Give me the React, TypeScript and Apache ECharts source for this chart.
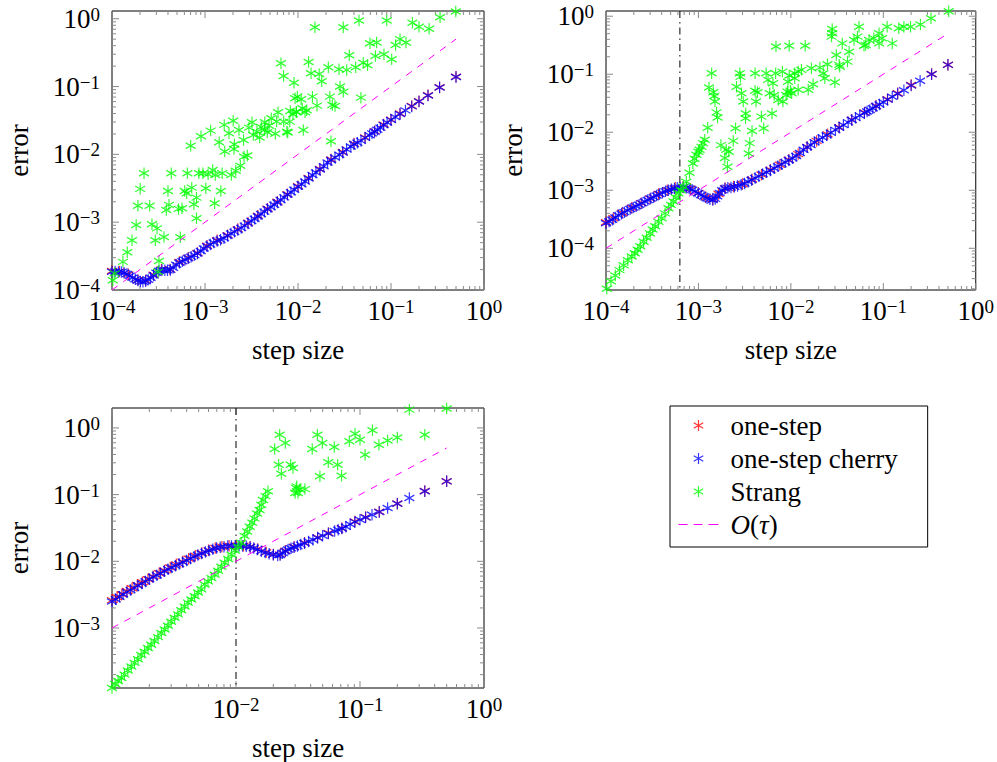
import React, { useEffect, useRef } from 'react';
import * as echarts from 'echarts';

const FONT = "'Liberation Serif', 'DejaVu Serif', serif";
const ASTERISK = 'path://M0,-10L0,10M-8.66,-5L8.66,5M-8.66,5L8.66,-5';
const DASH_ICON = 'path://M0,-5M0,0L9,0M15,0L24,0M30,0L40,0M0,5';

const NAMES = ['one-step', 'one-step cherry', 'Strang', 'O(τ)'];
const COLORS = ['#ff0000', '#0000ff', '#00ff00', '#ff00ff'];

// ---------- panel 1 ----------
const P1_ONESTEP = [[1.0e-4,1.9e-4],[1.2e-4,1.88e-4],[1.5e-4,1.7e-4],[1.9e-4,1.4e-4],[2.3e-4,1.38e-4],[2.8e-4,1.68e-4],[3.4e-4,2.0e-4],[4.2e-4,2.0e-4],[5.3e-4,2.58e-4],[6.6e-4,3.0e-4],[8.3e-4,3.52e-4],[1.05e-3,4.5e-4],[1.35e-3,5.4e-4],[1.75e-3,6.4e-4],[2.25e-3,7.9e-4],[2.9e-3,9.8e-4],[3.7e-3,1.24e-3],[4.7e-3,1.58e-3],[6.0e-3,2.0e-3],[7.7e-3,2.58e-3],[1.0e-2,3.4e-3],[1.3e-2,4.5e-3],[1.72e-2,6.1e-3],[2.27e-2,8.4e-3],[3.03e-2,1.08e-2],[4.0e-2,1.44e-2],[5.26e-2,1.78e-2],[6.67e-2,2.2e-2],[8.33e-2,2.75e-2],[0.1,3.25e-2],[0.125,4.0e-2],[0.167,5.15e-2],[0.2,6.05e-2],[0.25,7.45e-2],[0.333,9.75e-2],[0.5,0.139]];
const P1_CHERRY = [[1.0e-4,1.86e-4],[1.08e-4,1.88e-4],[1.17e-4,1.85e-4],[1.26e-4,1.84e-4],[1.35e-4,1.8e-4],[1.45e-4,1.72e-4],[1.55e-4,1.62e-4],[1.66e-4,1.52e-4],[1.78e-4,1.44e-4],[1.9e-4,1.38e-4],[2.02e-4,1.34e-4],[2.15e-4,1.32e-4],[2.3e-4,1.35e-4],[2.45e-4,1.42e-4],[2.6e-4,1.52e-4],[2.8e-4,1.64e-4],[3.0e-4,1.8e-4],[3.2e-4,1.92e-4],[3.45e-4,1.97e-4],[3.7e-4,1.96e-4],[3.95e-4,1.95e-4],[4.25e-4,1.98e-4],[4.55e-4,2.12e-4],[4.9e-4,2.35e-4],[5.3e-4,2.52e-4],[5.7e-4,2.65e-4],[6.1e-4,2.8e-4],[6.6e-4,2.93e-4],[7.1e-4,3.1e-4],[7.7e-4,3.27e-4],[8.3e-4,3.45e-4],[9.0e-4,3.75e-4],[9.7e-4,4.1e-4],[1.05e-3,4.4e-4],[1.14e-3,4.7e-4],[1.24e-3,5.0e-4],[1.35e-3,5.3e-4],[1.47e-3,5.5e-4],[1.6e-3,5.8e-4],[1.75e-3,6.3e-4],[1.9e-3,6.8e-4],[2.07e-3,7.2e-4],[2.25e-3,7.7e-4],[2.45e-3,8.2e-4],[2.67e-3,8.9e-4],[2.9e-3,9.6e-4],[3.15e-3,1.04e-3],[3.42e-3,1.12e-3],[3.7e-3,1.21e-3],[4.0e-3,1.32e-3],[4.35e-3,1.43e-3],[4.7e-3,1.55e-3],[5.1e-3,1.67e-3],[5.55e-3,1.81e-3],[6.0e-3,1.95e-3],[6.5e-3,2.13e-3],[7.1e-3,2.32e-3],[7.7e-3,2.53e-3],[8.4e-3,2.76e-3],[9.1e-3,3.0e-3],[1.0e-2,3.32e-3],[1.09e-2,3.62e-3],[1.19e-2,3.98e-3],[1.3e-2,4.4e-3],[1.43e-2,4.95e-3],[1.56e-2,5.4e-3],[1.72e-2,6.0e-3],[1.89e-2,6.7e-3],[2.08e-2,7.6e-3],[2.27e-2,8.2e-3],[2.5e-2,9.0e-3],[2.78e-2,9.9e-3],[3.03e-2,1.06e-2],[3.33e-2,1.18e-2],[3.7e-2,1.31e-2],[4.0e-2,1.41e-2],[4.35e-2,1.48e-2],[4.76e-2,1.58e-2],[5.26e-2,1.75e-2],[5.88e-2,1.92e-2],[6.25e-2,2.04e-2],[6.67e-2,2.16e-2],[7.14e-2,2.3e-2],[7.69e-2,2.47e-2],[8.33e-2,2.7e-2],[9.09e-2,2.95e-2],[0.1,3.2e-2],[0.111,3.55e-2],[0.125,3.95e-2],[0.143,4.45e-2],[0.167,5.1e-2],[0.2,6.0e-2],[0.25,7.4e-2],[0.333,9.7e-2],[0.5,0.138]];
const P1_STRANG = [[0.497,1.28],[0.0152,0.75],[0.0307,0.75],[0.0453,0.94],[0.09,0.94],[0.17,0.875],[0.2,0.76],[0.257,0.71],[0.337,1.05],
[0.00656,0.22],[0.007,0.143],[0.00906,0.114],[0.013,0.23],[0.0138,0.157],[0.0169,0.153],[0.018,0.12],[0.0212,0.193],[0.0276,0.18],[0.0334,0.176],[0.0356,0.29],[0.0417,0.193],[0.0503,0.225],[0.056,0.206],[0.0594,0.435],[0.07,0.445],[0.068,0.283],[0.084,0.3],[0.1017,0.252],[0.112,0.41],[0.125,0.5],[0.145,0.445],
[0.0093,0.067],[0.0108,0.065],[0.0143,0.071],[0.022,0.071],[0.0234,0.0536],[0.025,0.0518],[0.0307,0.084],[0.0283,0.1],[0.0475,0.0686],[0.0114,0.0229],[0.0226,0.0156],[0.00776,0.021],[0.016,0.0523],[0.0111,0.0479],[0.0119,0.0418],[0.0096,0.0418],[0.0124,0.0447],
[0.000702,0.0134],[0.000906,0.0185],[0.00115,0.0224],[0.00142,0.0151],[0.00161,0.0272],[0.00163,0.011],[0.00181,0.0205],[0.00201,0.0314],[0.00205,0.012],[0.00207,0.0141],[0.00232,0.0229],[0.0026,0.0163],[0.00285,0.0096],[0.00297,0.0248],[0.0032,0.0297],[0.00331,0.0193],[0.00362,0.0216],[0.00387,0.0177],[0.00403,0.0253],[0.00438,0.0229],[0.0044,0.0297],[0.00468,0.0212],[0.00488,0.0265],[0.00516,0.034],[0.0057,0.0202],[0.0059,0.0304],[0.0061,0.0417],[0.00702,0.0304],[0.0076,0.0216],[0.00815,0.0304],[0.00826,0.0436],[0.00883,0.039],[0.0096,0.0426],[0.00984,0.071],
[0.000221,0.00526],[0.000201,0.0031],[0.00019,0.00175],[0.000254,0.00175],[0.000182,0.00091],[0.000269,0.00093],[0.000305,0.00081],[0.000164,0.00054],[0.000292,0.00054],[0.000362,0.000605],[0.000146,0.00036],[0.000131,0.00026],[0.00032,0.000268],[0.000313,0.000186],[0.000102,0.000139],[0.000107,0.000176],[0.000434,0.00526],[0.0004,0.00288],[0.00041,0.0018],[0.000384,0.00151],[0.00052,0.00157],[0.000566,0.0016],[0.000605,0.00288],[0.000646,0.00526],[0.000636,0.00267],[0.00072,0.00323],[0.00076,0.00184],[0.00081,0.0023],[0.00081,0.00114],[0.000543,0.000598],[0.00086,0.00526],[0.00095,0.00526],[0.00102,0.00316],[0.00108,0.0051],[0.00121,0.0059],[0.00129,0.00497],[0.00127,0.0019],[0.00148,0.00288],[0.00153,0.00526],[0.00192,0.00497],[0.00214,0.00575],[0.0024,0.0068],[0.00263,0.0092]];
const P1_ORDER = [[1e-4, 1e-4], [0.5, 0.5]];

// ---------- panel 2 ----------
const P2_ONESTEP = [[1.0e-4,2.8e-4],[1.2e-4,3.3e-4],[1.5e-4,4.1e-4],[1.9e-4,5.0e-4],[2.4e-4,6.0e-4],[3.0e-4,7.2e-4],[3.7e-4,8.6e-4],[4.6e-4,1.0e-3],[5.6e-4,1.1e-3],[6.8e-4,1.13e-3],[8.2e-4,1.06e-3],[1.0e-3,9.0e-4],[1.2e-3,7.6e-4],[1.43e-3,7.0e-4],[1.65e-3,8.6e-4],[1.95e-3,1.08e-3],[2.4e-3,1.16e-3],[3.0e-3,1.28e-3],[3.8e-3,1.53e-3],[4.8e-3,1.86e-3],[6.0e-3,2.25e-3],[7.6e-3,2.75e-3],[9.5e-3,3.35e-3],[1.2e-2,4.2e-3],[1.5e-2,5.6e-3],[1.9e-2,7.1e-3],[2.5e-2,9.2e-3],[3.33e-2,1.22e-2],[4.55e-2,1.65e-2],[6.25e-2,2.2e-2],[8.33e-2,2.85e-2],[0.111,3.7e-2],[0.143,4.7e-2],[0.2,6.5e-2],[0.333,0.101],[0.5,0.146]];
const P2_CHERRY = [[1.0e-4,2.7e-4],[1.08e-4,2.9e-4],[1.17e-4,3.1e-4],[1.26e-4,3.4e-4],[1.36e-4,3.7e-4],[1.47e-4,3.95e-4],[1.58e-4,4.2e-4],[1.7e-4,4.5e-4],[1.83e-4,4.75e-4],[1.97e-4,5.05e-4],[2.12e-4,5.3e-4],[2.28e-4,5.65e-4],[2.45e-4,6.0e-4],[2.63e-4,6.4e-4],[2.83e-4,6.8e-4],[3.05e-4,7.2e-4],[3.28e-4,7.6e-4],[3.53e-4,8.1e-4],[3.8e-4,8.6e-4],[4.08e-4,9.1e-4],[4.4e-4,9.6e-4],[4.73e-4,1.0e-3],[5.1e-4,1.04e-3],[5.5e-4,1.07e-3],[5.9e-4,1.1e-3],[6.35e-4,1.11e-3],[6.85e-4,1.12e-3],[7.4e-4,1.1e-3],[7.95e-4,1.07e-3],[8.55e-4,1.02e-3],[9.2e-4,9.5e-4],[9.9e-4,8.9e-4],[1.07e-3,8.3e-4],[1.15e-3,7.8e-4],[1.24e-3,7.3e-4],[1.33e-3,7.0e-4],[1.43e-3,6.8e-4],[1.52e-3,7.1e-4],[1.6e-3,7.9e-4],[1.7e-3,9.0e-4],[1.8e-3,1.0e-3],[1.93e-3,1.07e-3],[2.08e-3,1.1e-3],[2.25e-3,1.12e-3],[2.45e-3,1.15e-3],[2.65e-3,1.18e-3],[2.9e-3,1.24e-3],[3.15e-3,1.31e-3],[3.45e-3,1.4e-3],[3.75e-3,1.5e-3],[4.1e-3,1.62e-3],[4.5e-3,1.75e-3],[4.95e-3,1.9e-3],[5.45e-3,2.04e-3],[6.0e-3,2.2e-3],[6.6e-3,2.4e-3],[7.25e-3,2.6e-3],[7.95e-3,2.82e-3],[8.7e-3,3.05e-3],[9.5e-3,3.3e-3],[1.04e-2,3.55e-3],[1.14e-2,3.9e-3],[1.25e-2,4.4e-3],[1.37e-2,5.0e-3],[1.5e-2,5.5e-3],[1.64e-2,6.0e-3],[1.8e-2,6.7e-3],[2.0e-2,7.4e-3],[2.2e-2,8.1e-3],[2.44e-2,8.9e-3],[2.7e-2,9.8e-3],[3.03e-2,1.1e-2],[3.33e-2,1.2e-2],[3.7e-2,1.33e-2],[4.17e-2,1.48e-2],[4.55e-2,1.62e-2],[5.0e-2,1.77e-2],[5.56e-2,1.95e-2],[6.25e-2,2.15e-2],[6.67e-2,2.28e-2],[7.14e-2,2.42e-2],[7.69e-2,2.6e-2],[8.33e-2,2.8e-2],[9.09e-2,3.02e-2],[0.1,3.3e-2],[0.111,3.65e-2],[0.125,4.1e-2],[0.143,4.6e-2],[0.167,5.3e-2],[0.2,6.4e-2],[0.25,7.7e-2],[0.333,0.1],[0.5,0.145]];
const P2_STRANG = [[1.02e-4,2.0e-5],[1.13e-4,2.7e-5],[1.26e-4,3.4e-5],[1.4e-4,4.2e-5],[1.55e-4,5.1e-5],[1.72e-4,6.2e-5],[1.9e-4,7.2e-5],[2.05e-4,8.2e-5],[2.2e-4,9.4e-5],[2.35e-4,1.08e-4],[2.55e-4,1.3e-4],[2.75e-4,1.52e-4],[3.0e-4,1.8e-4],[3.2e-4,2.1e-4],[3.4e-4,2.4e-4],[3.7e-4,2.85e-4],[4.0e-4,3.3e-4],[4.35e-4,4.0e-4],[4.74e-4,4.9e-4],[5.05e-4,5.6e-4],[5.37e-4,6.4e-4],[5.7e-4,7.5e-4],[6.07e-4,8.9e-4],[6.45e-4,1.0e-3],[6.87e-4,1.15e-3],[7.4e-4,1.4e-3],[8.0e-4,2.0e-3],[8.7e-4,2.9e-3],[9.1e-4,3.5e-3],[9.5e-4,4.1e-3],[1.0e-3,4.6e-3],[1.03e-3,5.0e-3],[1.08e-3,5.6e-3],[1.12e-3,6.5e-3],[1.17e-3,7.4e-3],[1.26e-3,1.2e-2],
[1.3e-3,5.9e-2],[1.39e-3,0.104],[1.45e-3,4.9e-2],[1.48e-3,4.2e-2],[1.51e-3,3.4e-2],[1.57e-3,2.2e-2],[1.61e-3,1.8e-2],
[1.75e-3,6.0e-3],[1.93e-3,3.6e-3],[2.0e-3,5.0e-3],[2.06e-3,2.55e-3],[2.13e-3,4.6e-3],[2.38e-3,7.1e-3],[2.52e-3,1.17e-2],[2.58e-3,6.1e-2],[2.8e-3,0.104],[2.85e-3,9.0e-2],[2.92e-3,4.7e-2],[3.05e-3,3.4e-2],[3.25e-3,2.1e-2],[3.23e-3,1.75e-2],[3.5e-3,4.3e-3],[3.59e-3,6.5e-3],[3.8e-3,1.05e-2],[4.1e-3,0.104],[4.1e-3,5.2e-2],[4.2e-3,3.4e-2],[4.35e-3,4.9e-2],[4.8e-3,1.86e-2],[5.08e-3,1.17e-2],[5.4e-3,0.104],[5.66e-3,8.0e-2],[5.9e-3,4.7e-2],[6.25e-3,2.1e-2],[6.4e-3,7.0e-2],[6.6e-3,4.4e-2],[6.84e-3,0.104],[6.9e-3,0.3],[7.3e-3,3.6e-2],[8.1e-3,0.111],[8.2e-3,3.4e-2],[8.9e-3,4.4e-2],[9.2e-3,5.0e-2],[9.3e-3,7.45e-2],[9.6e-3,0.31],[9.6e-3,9.5e-2],[9.9e-3,5.2e-2],
[1.02e-2,4.7e-2],[1.1e-2,0.104],[1.1e-2,8.5e-2],[1.2e-2,0.111],[1.2e-2,5.4e-2],[1.3e-2,0.119],[1.43e-2,0.31],[1.54e-2,5.4e-2],[1.67e-2,0.127],[1.74e-2,6.7e-2],[2.06e-2,0.13],[2.24e-2,0.104],[2.33e-2,8.5e-2],[2.49e-2,0.149],[2.75e-2,0.445],[2.8e-2,0.51],[2.8e-2,0.6],[2.99e-2,7.3e-2],[3.1e-2,0.215],[3.33e-2,0.145],[3.38e-2,0.135],[3.6e-2,0.34],[4.1e-2,0.165],[4.27e-2,0.245],[4.82e-2,0.39],[5.25e-2,0.445],[5.46e-2,0.66],[6.18e-2,0.31],[6.45e-2,0.32],[7.0e-2,0.39],[7.9e-2,0.416],[9.0e-2,0.51],[9.0e-2,0.342],[9.7e-2,0.416],[0.11,0.66],[0.125,0.34],[0.147,0.62],[0.167,0.66],[0.197,0.66],[0.252,0.72],[0.328,0.92],[0.51,1.22]];
const P2_ORDER = [[1e-4, 1e-4], [0.5, 0.5]];
const P2_VLINE = 6.3e-4;

// ---------- panel 3 ----------
const P3_ONESTEP = [[1.0e-3,2.62e-3],[1.1e-3,2.9e-3],[1.2e-3,3.2e-3],[1.32e-3,3.6e-3],[1.45e-3,3.95e-3],[1.6e-3,4.4e-3],[1.76e-3,4.85e-3],[1.95e-3,5.4e-3],[2.15e-3,5.95e-3],[2.4e-3,6.6e-3],[2.65e-3,7.3e-3],[2.95e-3,8.1e-3],[3.3e-3,9.0e-3],[3.7e-3,9.9e-3],[4.15e-3,1.09e-2],[4.7e-3,1.21e-2],[5.3e-3,1.33e-2],[6.0e-3,1.46e-2],[6.8e-3,1.58e-2],[7.7e-3,1.66e-2],[8.8e-3,1.71e-2],[1.0e-2,1.73e-2],[1.15e-2,1.71e-2],[1.3e-2,1.66e-2],[1.5e-2,1.53e-2],[1.75e-2,1.37e-2],[2.0e-2,1.27e-2],[2.27e-2,1.26e-2],[2.5e-2,1.44e-2],[2.94e-2,1.65e-2],[3.57e-2,1.9e-2],[4.55e-2,2.28e-2],[5.56e-2,2.65e-2],[7.14e-2,3.13e-2],[9.09e-2,3.95e-2],[0.111,4.6e-2],[0.143,5.55e-2],[0.2,7.35e-2],[0.333,0.113],[0.5,0.159]];
const P3_CHERRY = [[1.0e-3,2.5e-3],[1.07e-3,2.7e-3],[1.15e-3,2.95e-3],[1.23e-3,3.2e-3],[1.32e-3,3.45e-3],[1.41e-3,3.7e-3],[1.51e-3,4.0e-3],[1.62e-3,4.3e-3],[1.74e-3,4.65e-3],[1.86e-3,5.0e-3],[2.0e-3,5.4e-3],[2.14e-3,5.8e-3],[2.3e-3,6.2e-3],[2.46e-3,6.6e-3],[2.64e-3,7.1e-3],[2.83e-3,7.6e-3],[3.03e-3,8.1e-3],[3.25e-3,8.6e-3],[3.48e-3,9.1e-3],[3.73e-3,9.7e-3],[4.0e-3,1.03e-2],[4.29e-3,1.1e-2],[4.6e-3,1.17e-2],[4.93e-3,1.24e-2],[5.28e-3,1.31e-2],[5.66e-3,1.38e-2],[6.07e-3,1.45e-2],[6.5e-3,1.52e-2],[6.97e-3,1.58e-2],[7.47e-3,1.63e-2],[8.0e-3,1.66e-2],[8.58e-3,1.69e-2],[9.2e-3,1.7e-2],[9.86e-3,1.71e-2],[1.06e-2,1.71e-2],[1.13e-2,1.7e-2],[1.21e-2,1.68e-2],[1.3e-2,1.64e-2],[1.39e-2,1.58e-2],[1.49e-2,1.5e-2],[1.6e-2,1.42e-2],[1.72e-2,1.35e-2],[1.85e-2,1.3e-2],[2.0e-2,1.25e-2],[2.17e-2,1.22e-2],[2.27e-2,1.24e-2],[2.38e-2,1.33e-2],[2.5e-2,1.42e-2],[2.63e-2,1.5e-2],[2.78e-2,1.57e-2],[2.94e-2,1.63e-2],[3.13e-2,1.7e-2],[3.33e-2,1.78e-2],[3.57e-2,1.87e-2],[3.85e-2,1.98e-2],[4.17e-2,2.1e-2],[4.55e-2,2.25e-2],[5.0e-2,2.42e-2],[5.56e-2,2.62e-2],[6.25e-2,2.85e-2],[6.67e-2,2.98e-2],[7.14e-2,3.1e-2],[7.69e-2,3.3e-2],[8.33e-2,3.6e-2],[9.09e-2,3.9e-2],[0.1,4.2e-2],[0.111,4.55e-2],[0.125,5.0e-2],[0.143,5.5e-2],[0.167,6.3e-2],[0.2,7.3e-2],[0.25,8.9e-2],[0.333,0.112],[0.5,0.158]];
const P3_STRANG = [[1.0e-3,1.26e-4],[1.06e-3,1.45e-4],[1.12e-3,1.6e-4],[1.19e-3,1.78e-4],[1.26e-3,2.0e-4],[1.34e-3,2.3e-4],[1.43e-3,2.65e-4],[1.52e-3,3.0e-4],[1.62e-3,3.4e-4],[1.72e-3,3.95e-4],[1.83e-3,4.4e-4],[1.95e-3,5.0e-4],[2.07e-3,5.6e-4],[2.2e-3,6.4e-4],[2.35e-3,7.3e-4],[2.5e-3,8.4e-4],[2.66e-3,9.5e-4],[2.83e-3,1.08e-3],[3.0e-3,1.24e-3],[3.2e-3,1.42e-3],[3.4e-3,1.6e-3],[3.62e-3,1.85e-3],[3.85e-3,2.1e-3],[4.1e-3,2.4e-3],[4.36e-3,2.68e-3],[4.64e-3,3.0e-3],[4.94e-3,3.4e-3],[5.25e-3,3.8e-3],[5.6e-3,4.5e-3],[5.95e-3,5.0e-3],[6.33e-3,5.6e-3],[6.74e-3,6.3e-3],[7.17e-3,7.2e-3],[7.62e-3,8.3e-3],[8.1e-3,9.5e-3],[8.65e-3,1.08e-2],[9.2e-3,1.25e-2],[9.8e-3,1.45e-2],[1.04e-2,1.65e-2],[1.1e-2,1.9e-2],[1.17e-2,2.4e-2],[1.23e-2,2.8e-2],[1.29e-2,3.3e-2],[1.35e-2,3.8e-2],[1.41e-2,4.4e-2],[1.48e-2,5.2e-2],[1.55e-2,5.9e-2],[1.6e-2,7.0e-2],[1.65e-2,8.3e-2],[1.73e-2,9.5e-2],[1.81e-2,0.112],
[0.0225,0.79],[0.025,0.594],[0.0205,0.483],[0.0221,0.281],[0.0276,0.28],[0.0232,0.206],[0.0288,0.25],[0.0306,0.126],[0.03,0.106],[0.0309,0.133],[0.0328,0.119],[0.036,0.121],[0.0316,0.106],[0.0453,0.79],[0.0412,0.483],[0.0497,0.594],[0.062,0.518],[0.0555,0.305],[0.066,0.281],[0.0475,0.188],[0.071,0.192],[0.082,0.63],[0.0912,0.82],[0.1,0.665],[0.11,0.396],[0.126,0.92],[0.142,0.56],[0.167,0.65],[0.2,0.72],[0.25,1.88],[0.333,0.79],[0.5,1.95]];
const P3_ORDER = [[1e-3, 1e-3], [0.5, 0.5]];
const P3_VLINE = 1e-2;

// tick label exponents shown
const P1_X_EXP = [-4, -3, -2, -1, 0];
const P1_Y_EXP = [-4, -3, -2, -1, 0];
const P2_X_EXP = [-4, -3, -2, -1, 0];
const P2_Y_EXP = [-4, -3, -2, -1, 0];
const P3_X_EXP = [-2, -1, 0];
const P3_Y_EXP = [-3, -2, -1, 0];

const PANELS = [
  { grid: { left: 112, top: 11, width: 372, height: 279 }, x: [1e-4, 1], y: [1e-4, 1.3], xExp: P1_X_EXP, yExp: P1_Y_EXP,
    data: [P1_ONESTEP, P1_CHERRY, P1_STRANG], order: P1_ORDER, vline: null as number | null },
  { grid: { left: 606, top: 11, width: 371, height: 279 }, x: [1e-4, 1], y: [1.91e-5, 1.23], xExp: P2_X_EXP, yExp: P2_Y_EXP,
    data: [P2_ONESTEP, P2_CHERRY, P2_STRANG], order: P2_ORDER, vline: P2_VLINE },
  { grid: { left: 112, top: 408, width: 372, height: 280 }, x: [1e-3, 1], y: [1.26e-4, 1.99], xExp: P3_X_EXP, yExp: P3_Y_EXP,
    data: [P3_ONESTEP, P3_CHERRY, P3_STRANG], order: P3_ORDER, vline: P3_VLINE },
];

const RICH = {
  b: { fontFamily: FONT, fontSize: 27, lineHeight: 28, color: '#000' },
  s: { fontFamily: FONT, fontSize: 19, lineHeight: 19, verticalAlign: 'top', color: '#000' },
};

function expFormatter(show: number[]) {
  return (v: number) => {
    const l = Math.log10(v);
    const e = Math.round(l);
    if (Math.abs(l - e) > 1e-6 || show.indexOf(e) < 0) return '';
    return `{b|10}{s|${e < 0 ? '\u2212' + -e : String(e)}}`;
  };
}

// kinds: 0 x-major, 1 x-minor, 2 y-major, 3 y-minor, 4 vertical reference line
function tickData(xr: number[], yr: number[], vline: number | null) {
  const out: number[][] = [];
  const add = (r: number[], isX: boolean) => {
    const d0 = Math.floor(Math.log10(r[0]) - 1e-9);
    const d1 = Math.ceil(Math.log10(r[1]) + 1e-9);
    for (let d = d0; d <= d1; d++) {
      for (let k = 1; k <= 9; k++) {
        const v = k * Math.pow(10, d);
        if (v < r[0] * 0.999 || v > r[1] * 1.001) continue;
        const kind = (isX ? 0 : 2) + (k === 1 ? 0 : 1);
        out.push(isX ? [v, yr[0], kind] : [xr[0], v, kind]);
      }
    }
  };
  add(xr, true);
  add(yr, false);
  if (vline != null) out.push([vline, yr[0], 4]);
  return out;
}

function buildOption() {
  const grid: any[] = [];
  const xAxis: any[] = [];
  const yAxis: any[] = [];
  const series: any[] = [];
  PANELS.forEach((p, i) => {
    grid.push({ ...p.grid, show: true, borderColor: '#000', borderWidth: 1, backgroundColor: 'transparent' });
    xAxis.push({
      type: 'log', logBase: 10, gridIndex: i, min: p.x[0], max: p.x[1], splitNumber: 4,
      axisLine: { show: false }, axisTick: { show: false }, splitLine: { show: false }, minorTick: { show: false },
      axisLabel: { margin: 7, formatter: expFormatter(p.xExp), rich: RICH, showMinLabel: true, showMaxLabel: true },
      name: 'step size', nameLocation: 'middle', nameGap: 46,
      nameTextStyle: { fontFamily: FONT, fontSize: 27, color: '#000' },
    });
    yAxis.push({
      type: 'log', logBase: 10, gridIndex: i, min: p.y[0], max: p.y[1], splitNumber: 4,
      axisLine: { show: false }, axisTick: { show: false }, splitLine: { show: false }, minorTick: { show: false },
      axisLabel: { margin: 12, formatter: expFormatter(p.yExp), rich: RICH, showMinLabel: true, showMaxLabel: true },
      name: 'error', nameLocation: 'middle', nameGap: 80,
      nameTextStyle: { fontFamily: FONT, fontSize: 27, color: '#000' },
    });
    series.push({
      type: 'custom', xAxisIndex: i, yAxisIndex: i, silent: true, z: 1, clip: false,
      data: tickData(p.x, p.y, p.vline),
      renderItem: (params: any, api: any) => {
        const cs = params.coordSys;
        const kind = api.value(2);
        const pt = api.coord([api.value(0), api.value(1)]);
        if (kind === 4) {
          return { type: 'line', shape: { x1: pt[0], y1: cs.y, x2: pt[0], y2: cs.y + cs.height },
            style: { stroke: '#000', lineWidth: 1, lineDash: [7, 4, 1.5, 4] } };
        }
        const len = kind % 2 === 0 ? 7 : 4;
        const st = { stroke: '#8a8a8a', lineWidth: 1 };
        if (kind < 2) {
          const x = pt[0];
          return { type: 'group', children: [
            { type: 'line', shape: { x1: x, y1: cs.y + cs.height, x2: x, y2: cs.y + cs.height - len }, style: st },
            { type: 'line', shape: { x1: x, y1: cs.y, x2: x, y2: cs.y + len }, style: st },
          ] };
        }
        const y = pt[1];
        return { type: 'group', children: [
          { type: 'line', shape: { x1: cs.x, y1: y, x2: cs.x + len, y2: y }, style: st },
          { type: 'line', shape: { x1: cs.x + cs.width, y1: y, x2: cs.x + cs.width - len, y2: y }, style: st },
        ] };
      },
    });
    p.data.forEach((d, k) => {
      series.push({
        type: 'scatter', name: NAMES[k], xAxisIndex: i, yAxisIndex: i, data: d, clip: false,
        symbol: ASTERISK, symbolSize: [10, 11.5], z: 2 + k,
        itemStyle: { color: 'transparent', borderColor: COLORS[k], borderWidth: 1.25 },
      });
    });
    series.push({
      type: 'line', name: NAMES[3], xAxisIndex: i, yAxisIndex: i, data: p.order, symbol: 'none', z: 6,
      lineStyle: { color: COLORS[3], width: 1, type: [7, 7] }, itemStyle: { color: COLORS[3] },
    });
  });
  const legendIcon = (k: number) => ({
    name: NAMES[k], icon: ASTERISK,
    itemStyle: { color: 'transparent', borderColor: COLORS[k], borderWidth: 1.2 },
  });
  return {
    animation: false,
    backgroundColor: '#fff',
    grid, xAxis, yAxis, series,
    legend: {
      orient: 'vertical', left: 670, top: 406, selectedMode: false,
      backgroundColor: '#fff', borderColor: '#000', borderWidth: 1, borderRadius: 0,
      padding: [3, 30, 6, 8], itemWidth: 40, itemHeight: 11, itemGap: 0,
      formatter: (n: string) => (n === 'O(τ)' ? '{o|O}{n|(}{o|τ}{n|)}' : n),
      textStyle: {
        fontFamily: FONT, fontSize: 27, color: '#000', lineHeight: 33, padding: [0, 0, 0, 7],
        rich: {
          o: { fontFamily: FONT, fontSize: 27, fontStyle: 'italic', color: '#000', lineHeight: 33 },
          n: { fontFamily: FONT, fontSize: 27, color: '#000', lineHeight: 33 },
        },
      },
      data: [legendIcon(0), legendIcon(1), legendIcon(2),
        { name: NAMES[3], icon: DASH_ICON,
          itemStyle: { color: 'transparent', borderColor: COLORS[3], borderWidth: 1 } }],
    },
  };
}

export default function App() {
  const ref = useRef<HTMLDivElement>(null);
  useEffect(() => {
    if (!ref.current) return;
    const chart = echarts.init(ref.current, undefined, { renderer: 'svg' });
    chart.setOption(buildOption() as any);
    return () => chart.dispose();
  }, []);
  return <div ref={ref} style={{ position: 'absolute', left: 0, top: 0, width: 997, height: 762, background: '#fff' }} />;
}
